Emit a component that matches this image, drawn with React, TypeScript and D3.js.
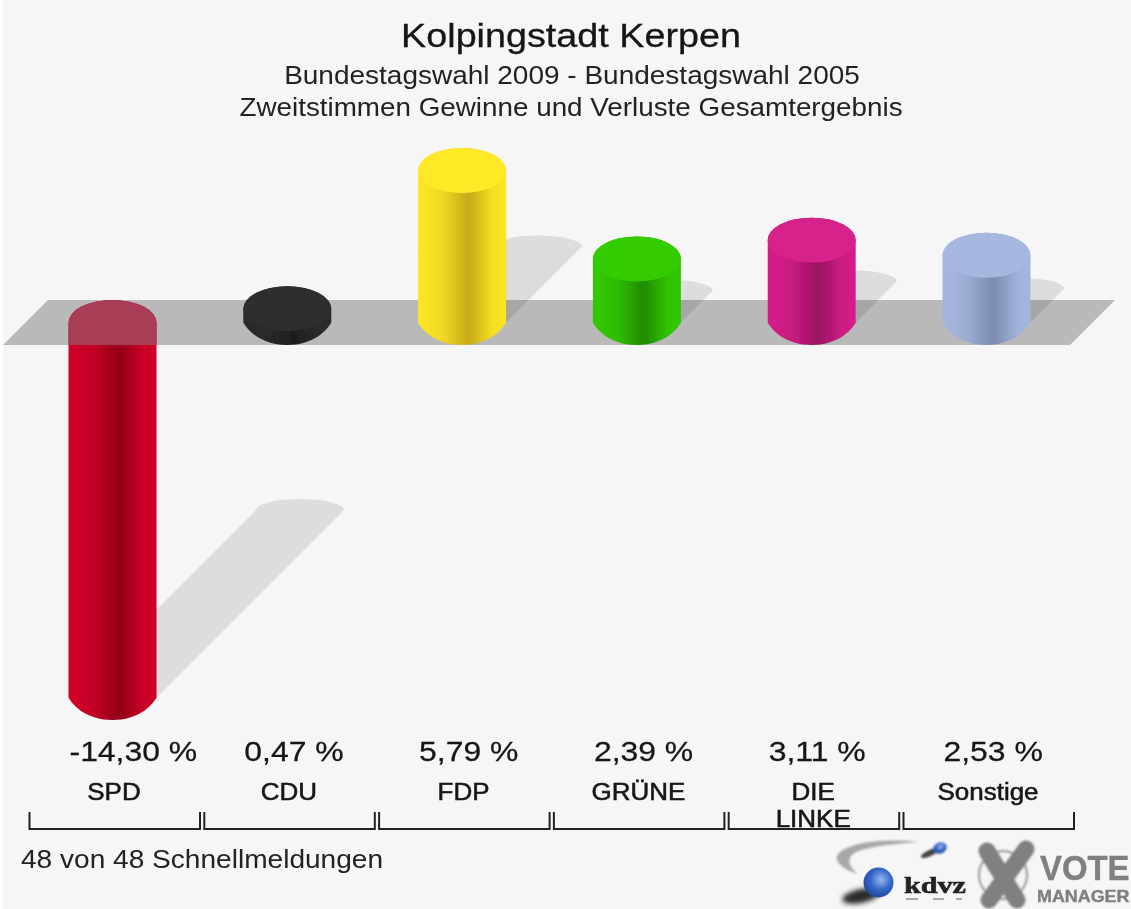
import React from "react";
import * as d3 from "d3";

const categories = ["SPD", "CDU", "FDP", "GRÜNE", "DIE LINKE", "Sonstige"];
const values = [-14.3, 0.47, 5.79, 2.39, 3.11, 2.53];
const valueLabels = ["-14,30 %", "0,47 %", "5,79 %", "2,39 %", "3,11 %", "2,53 %"];
const topColors = ["#c8002a", "#2e2e2e", "#ffe926", "#33cc00", "#d6218a", "#a7b8e0"];
const sideColors = ["#cf0028", "#2c2c2c", "#fbe420", "#31c800", "#d41f88", "#a5b6de"];
const darkColors = ["#960019", "#1f1f1f", "#cbad1e", "#228f00", "#9c1263", "#7d8eb2"];
const titleLines = ["Kolpingstadt Kerpen", "Bundestagswahl 2009 - Bundestagswahl 2005", "Zweitstimmen Gewinne und Verluste Gesamtergebnis"];
const footer = "48 von 48 Schnellmeldungen";

const W = 1131, H = 909;
const RX = 44, RY = 22.5;
const BASE = 322.5;
const SX = 1.16;
const x = d3.scalePoint<string>().domain(categories).range([112.5, 986.5]);
const y = d3.scaleLinear().domain([-14.3, 0, 5.79]).range([697.5, 321, 170.5]);
const FONT = "'Liberation Sans', Arial, sans-serif";
const band = "M3,345 L48,300 L1115,300 L1070,345 Z";

function barPath(cx: number, y1: number, y2: number) {
  return `M${cx - RX},${y1} A${RX},${RY} 0 0 1 ${cx + RX},${y1} L${cx + RX},${y2}` +
    ` C${cx + RX - 5},${y2 + 9} ${cx + 25},${y2 + RY} ${cx},${y2 + RY}` +
    ` C${cx - 25},${y2 + RY} ${cx - RX + 5},${y2 + 9} ${cx - RX},${y2} Z`;
}
function shadowPath(cx: number, yBase: number, len: number) {
  const d = len / 2;
  return `M${cx - RX},${yBase} L${cx + RX},${yBase} L${cx + RX + d},${yBase - d} A${RX},11 0 0 0 ${cx - RX + d},${yBase - d} Z`;
}

function T({ x: tx, y: ty, sx = SX, anchor = "start", children, ...rest }: any) {
  return (
    <text transform={`translate(${tx},${ty}) scale(${sx},1)`} textAnchor={anchor} {...rest}>{children}</text>
  );
}

function Bar({ i }: { i: number }) {
  const c = x(categories[i]) as number;
  const v = values[i];
  const yv = y(v);
  return (
    <g>
      <path d={barPath(c, Math.min(BASE, yv), Math.max(BASE, yv))} fill={`url(#grad${i})`} />
      {v > 0 && <ellipse cx={c} cy={yv} rx={RX} ry={RY} fill={topColors[i]} />}
    </g>
  );
}

export default function App() {
  return (
    <svg width={W} height={H} viewBox={`0 0 ${W} ${H}`} style={{ position: "absolute", left: 0, top: 0, display: "block" }}>
      <defs>
        <filter id="soft" filterUnits="userSpaceOnUse" x="0" y="0" width={W} height={H}><feGaussianBlur stdDeviation="0.7" /></filter>
        <filter id="soft2" filterUnits="userSpaceOnUse" x="0" y="0" width={W} height={H}><feGaussianBlur stdDeviation="1" /></filter>
        <filter id="soft3" filterUnits="userSpaceOnUse" x="0" y="0" width={W} height={H}><feGaussianBlur stdDeviation="2.5" /></filter>
        <clipPath id="bandClip"><path d={band} /></clipPath>
        <radialGradient id="sphere" cx="0.58" cy="0.4" r="0.7">
          <stop offset="0" stopColor="#9ab8ee" />
          <stop offset="0.5" stopColor="#3566c8" />
          <stop offset="1" stopColor="#1c3f8f" />
        </radialGradient>
        {categories.map((_, i) => (
          <linearGradient id={`grad${i}`} key={i} x1="0" x2="1" y1="0" y2="0">
            <stop offset="0.06" stopColor={sideColors[i]} />
            <stop offset="0.3" stopColor={d3.interpolateRgb(sideColors[i], darkColors[i])(0.25)} />
            <stop offset="0.55" stopColor={darkColors[i]} />
            <stop offset="0.6" stopColor={darkColors[i]} />
            <stop offset="0.85" stopColor={d3.interpolateRgb(darkColors[i], sideColors[i])(0.9)} />
            <stop offset="1" stopColor={sideColors[i]} />
          </linearGradient>
        ))}
      </defs>
      <rect x={0} y={0} width={W} height={H} fill="#ffffff" />
      <rect x={3} y={0} width={W - 3} height={H} fill="#f6f6f6" />

      <g filter="url(#soft)">
        <path d={band} fill="#b9b9b9" />
        {categories.map((cat, i) => {
          const len = Math.abs(y(values[i]) - BASE);
          const base = values[i] < 0 ? y(values[i]) : BASE;
          return len > RY ? <path key={cat} d={shadowPath(x(cat) as number, base, len)} fill="#000" fillOpacity={0.1} /> : null;
        })}
        <Bar i={0} />
        <path d={barPath(x(categories[0]) as number, BASE, y(values[0]))} fill="#aa3d57" clipPath="url(#bandClip)" />
        {categories.map((cat, i) => (i > 0 ? <Bar key={cat} i={i} /> : null))}
      </g>

      <g filter="url(#soft)" fontFamily={FONT} fill="#141414">
        <T x={571} y={47} anchor="middle" fontSize={34} sx={1.11} stroke="#141414" strokeWidth={0.3}>{titleLines[0]}</T>
        <T x={572} y={84} anchor="middle" fontSize={25} sx={1.12} fill="#222">{titleLines[1]}</T>
        <T x={571} y={116} anchor="middle" fontSize={25} sx={1.113} fill="#222">{titleLines[2]}</T>
        {categories.map((cat, i) => (
          <T key={cat} x={(x(cat) as number) - 43} y={761} fontSize={28} sx={1.14} stroke="#141414" strokeWidth={0.25}>{valueLabels[i]}</T>
        ))}
        {categories.map((cat) => {
          const words = cat.split(" ");
          return words.map((w, k) => (
            <T key={w} x={(x(cat) as number) + 1.5} y={800 + k * 27} anchor="middle" fontSize={23} sx={1.13} stroke="#141414" strokeWidth={0.5}>{w}</T>
          ));
        })}
        <T x={21} y={868} fontSize={25} sx={1.123} fill="#222">{footer}</T>
        {categories.map((cat) => {
          const c = x(cat) as number;
          return <path key={cat} d={`M${c - 83},812 V829 H${c + 87.5} V812`} fill="none" stroke="#222" strokeWidth={2} />;
        })}
      </g>

      {/* kdvz logo */}
      <g>
        <g filter="url(#soft2)">
          <path d="M918,842 C885,838 845,842 837,856 C835,863 845,870 858,874 C848,866 846,858 856,852 C870,846 895,844 918,842 Z" fill="#a8a8a8" />
          <ellipse cx={930} cy={853} rx={10} ry={3} fill="#444" transform="rotate(-25 930 853)" />
          <ellipse cx={940} cy={848} rx={7} ry={5.5} fill="url(#sphere)" transform="rotate(-25 940 848)" />
        </g>
        <ellipse cx={861} cy={896} rx={19} ry={7} fill="#2a2a2a" filter="url(#soft3)" transform="rotate(-12 861 896)" />
        <circle cx={878.5} cy={882.5} r={15} fill="url(#sphere)" filter="url(#soft)" />
        <g filter="url(#soft)">
          <text x={904} y={893} fontFamily="'Liberation Serif', serif" fontWeight={700} fontSize={24} fill="#222" stroke="#222" strokeWidth={0.6} textLength={62} lengthAdjust="spacingAndGlyphs">kdvz</text>
          <path d="M906,899 H918 M933,899 H944 M956,899 H962" stroke="#aaa" strokeWidth={2} />
        </g>
      </g>

      {/* Vote Manager logo */}
      <g filter="url(#soft2)" fill="#808080" stroke="none">
        <circle cx={1003} cy={875} r={24} fill="none" stroke="#999" strokeWidth={2} />
        <path d="M987,851 L1017,900" stroke="#808080" strokeWidth={17} strokeLinecap="round" />
        <path d="M1026,849 L989,900" stroke="#808080" strokeWidth={17} strokeLinecap="round" />
      </g>
      <g filter="url(#soft)" fontFamily={FONT} fontWeight={700} fill="#808080" stroke="#808080" strokeWidth={0.4}>
        <T x={1040} y={880} fontSize={35} sx={0.94}>VOTE</T>
        <T x={1037} y={902} fontSize={16} sx={1.12}>MANAGER</T>
      </g>
    </svg>
  );
}
